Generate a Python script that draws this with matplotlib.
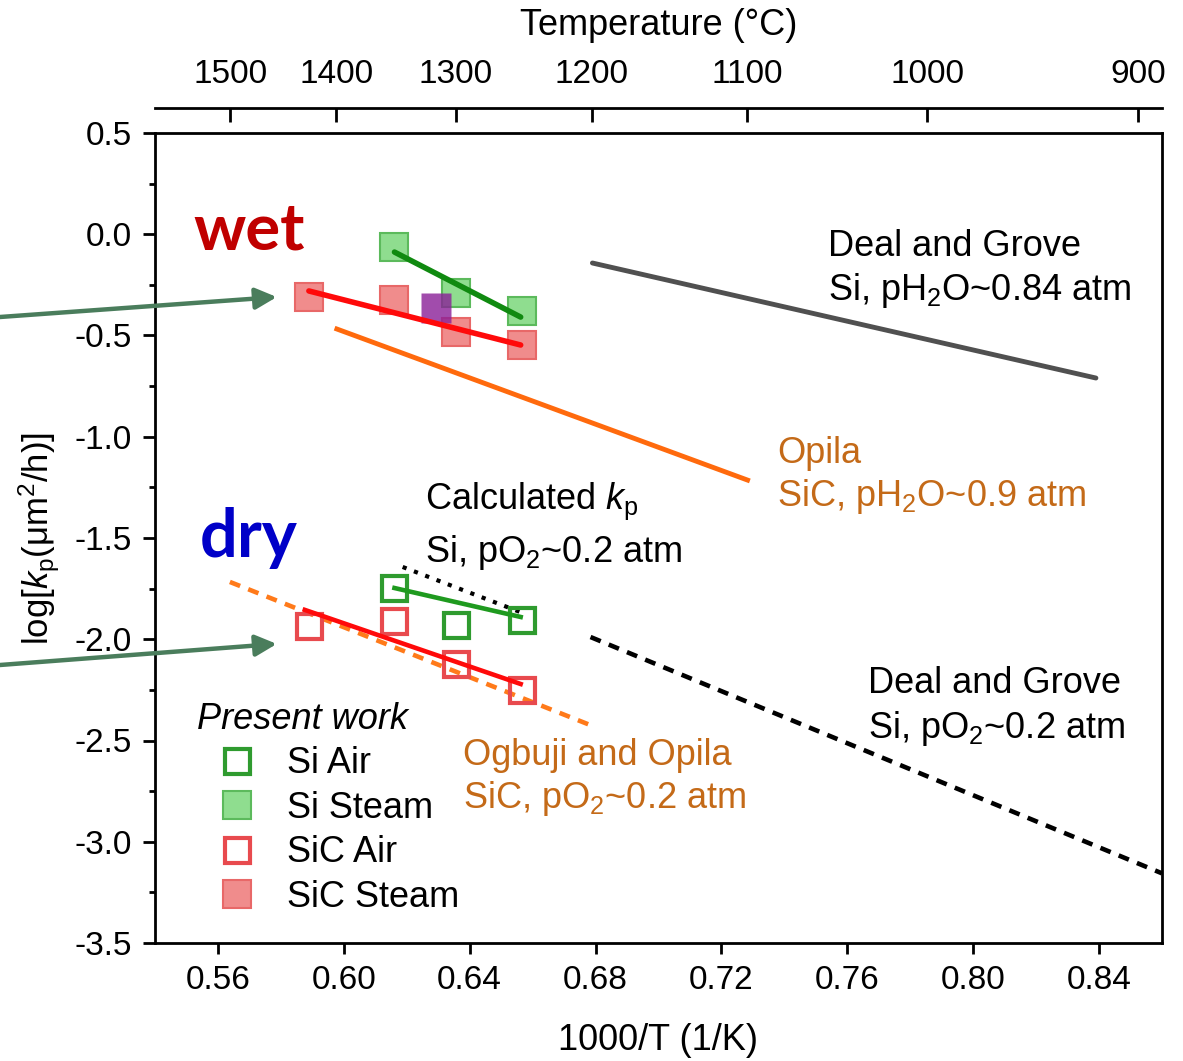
import numpy as np
import matplotlib
matplotlib.use("Agg")
import matplotlib.pyplot as plt
from matplotlib.lines import Line2D
from matplotlib.ticker import MultipleLocator, FormatStrFormatter, FixedLocator

plt.rcParams['font.family'] = ['Liberation Sans', 'DejaVu Sans']
plt.rcParams['mathtext.fontset'] = 'custom'
plt.rcParams['mathtext.rm'] = 'Liberation Sans'
plt.rcParams['mathtext.it'] = 'Liberation Sans:italic'
plt.rcParams['axes.unicode_minus'] = False

# Present work: oxidation temperatures (C) and log kp values
T_si = [1350, 1300, 1250]
T_sic = [1425, 1350, 1300, 1250]
si_steam = [-0.063, -0.290, -0.379]
sic_steam = [-0.310, -0.325, -0.483, -0.547]
si_air = [-1.747, -1.930, -1.905]
sic_air = [-1.935, -1.910, -2.122, -2.251]
extra_x = [0.6294]
extra_y = [-0.364]

# Fits of present work (1000/T, log kp)
fit_si_steam_x, fit_si_steam_y = [0.6161, 0.6562], [-0.088, -0.409]
fit_sic_steam_x, fit_sic_steam_y = [0.5889, 0.6562], [-0.280, -0.547]
fit_si_air_x, fit_si_air_y = [0.6161, 0.6562], [-1.747, -1.890]
fit_sic_air_x, fit_sic_air_y = [0.5876, 0.6562], [-1.855, -2.221]

# Literature lines
dg_wet_x, dg_wet_y = [0.6790, 0.8390], [-0.142, -0.710]
opila_x, opila_y = [0.5978, 0.7283], [-0.468, -1.214]
calc_x, calc_y = [0.6187, 0.6568], [-1.643, -1.870]
ogbuji_x, ogbuji_y = [0.5638, 0.6790], [-1.717, -2.428]
dg_dry_x, dg_dry_y = [0.6784, 0.8600], [-1.989, -3.156]

top_temps = [1500, 1400, 1300, 1200, 1100, 1000, 900]


def inv_T(T):
    return 1000.0 / (np.asarray(T, dtype=float) + 273.15)


FS = 26
fig = plt.figure(figsize=(11.83, 10.61), dpi=100)
ax = fig.add_axes([155/1183, 1-943/1061, (1162-155)/1183, (943-133)/1061])

green_open = '#2f9b2f'
green_fill = '#8fdd8f'
green_edge = '#5cba5c'
red_open = '#e84a4e'
red_fill = '#f08c8c'
red_edge = '#e86868'

# markers
ax.plot(inv_T(T_si), si_steam, 's', ms=20.5, mfc=green_fill, mec=green_edge, mew=1.5,
        ls='none', label='Si Steam', zorder=3)
ax.plot(inv_T(T_sic), sic_steam, 's', ms=20.5, mfc=red_fill, mec=red_edge, mew=1.5,
        ls='none', label='SiC Steam', zorder=3)
ax.plot(extra_x, extra_y, 's', ms=22, mfc='#8a1f98', mec='none', alpha=0.8,
        ls='none', zorder=3.5)
ax.plot(inv_T(T_si), si_air, 's', ms=18, mfc='none', mec=green_open, mew=3,
        ls='none', label='Si Air', zorder=3)
ax.plot(inv_T(T_sic), sic_air, 's', ms=18, mfc='none', mec=red_open, mew=3,
        ls='none', label='SiC Air', zorder=3)

# fits
ax.plot(fit_si_steam_x, fit_si_steam_y, color='#108a10', lw=4, zorder=4,
        solid_capstyle='round')
ax.plot(fit_sic_steam_x, fit_sic_steam_y, color='#ff0a0a', lw=4, zorder=4,
        solid_capstyle='round')
ax.plot(fit_si_air_x, fit_si_air_y, color='#1f9a1f', lw=3.3, zorder=4)
ax.plot(fit_sic_air_x, fit_sic_air_y, color='#ff0a0a', lw=3.3, zorder=4)

# literature
ax.plot(dg_wet_x, dg_wet_y, color='#505050', lw=3.5, solid_capstyle='round')
ax.plot(opila_x, opila_y, color='#ff6a0d', lw=3.5)
ax.plot(calc_x, calc_y, color='black', lw=3, dashes=(1, 1.9))
ax.plot(ogbuji_x, ogbuji_y, color='#ff7a1a', lw=3.3, dashes=(2.4, 1.9))
ax.plot(dg_dry_x, dg_dry_y, color='black', lw=3.3, dashes=(2.4, 1.9))

# annotations
brown = '#c46a18'
txt = [
    (0.7540, -0.107, 'Deal and Grove', 'black'),
    (0.7540, -0.325, r'Si, pH$_2$O~0.84 atm', 'black'),
    (0.7378, -1.130, 'Opila', brown),
    (0.7378, -1.342, r'SiC, pH$_2$O~0.9 atm', brown),
    (0.6257, -1.357, r'Calculated $k_\mathrm{p}$', 'black'),
    (0.6257, -1.619, r'Si, pO$_2$~0.2 atm', 'black'),
    (0.7667, -2.265, 'Deal and Grove', 'black'),
    (0.7667, -2.488, r'Si, pO$_2$~0.2 atm', 'black'),
    (0.6378, -2.621, 'Ogbuji and Opila', brown),
    (0.6378, -2.833, r'SiC, pO$_2$~0.2 atm', brown),
]
for x, y, s, c in txt:
    ax.text(x, y, s, color=c, fontsize=FS, ha='left', va='baseline')

ax.text(0.5521, -0.073, 'wet', color='#c00000', fontsize=47, fontweight='bold',
        family=['Lato', 'DejaVu Sans'], ha='left', va='baseline')
ax.text(0.5543, -1.594, 'dry', color='#0000c8', fontsize=48, fontweight='bold',
        family=['Lato', 'DejaVu Sans'], ha='left', va='baseline')

# arrows from left margin
arrow_c = '#4a7d5c'
for tip_y, start_y in [(-0.310, 317), (-2.023, 665)]:
    ax.annotate('', xy=(0.5787, tip_y), xycoords='data',
                xytext=(0, 1 - start_y/1061), textcoords='figure fraction',
                arrowprops=dict(arrowstyle='-|>', mutation_scale=32, lw=3.2,
                                color=arrow_c, shrinkA=0, shrinkB=0),
                annotation_clip=False, zorder=6)

# legend
handles = [
    Line2D([], [], marker='s', ms=18, mfc='none', mec=green_open, mew=3, ls='none'),
    Line2D([], [], marker='s', ms=20, mfc=green_fill, mec=green_edge, mew=1.5, ls='none'),
    Line2D([], [], marker='s', ms=18, mfc='none', mec=red_open, mew=3, ls='none'),
    Line2D([], [], marker='s', ms=20, mfc=red_fill, mec=red_edge, mew=1.5, ls='none'),
]
leg = ax.legend(handles, ['Si Air', 'Si Steam', 'SiC Air', 'SiC Steam'],
                loc='upper left', bbox_to_anchor=((197-155)/1007, (943-702)/810),
                frameon=False, borderpad=0, borderaxespad=0, handlelength=2.2,
                handletextpad=0.3, labelspacing=0.26, numpoints=1, fontsize=FS,
                title='Present work', alignment='left',
                title_fontproperties={'style': 'italic', 'size': FS})

# axes
ax.set_xlim(0.54, 0.86)
ax.set_ylim(-3.5, 0.5)
ax.xaxis.set_major_locator(FixedLocator([0.56, 0.60, 0.64, 0.68, 0.72, 0.76, 0.80, 0.84]))
ax.xaxis.set_major_formatter(FormatStrFormatter('%.2f'))
ax.yaxis.set_major_locator(MultipleLocator(0.5))
ax.yaxis.set_minor_locator(MultipleLocator(0.25))
ax.yaxis.set_major_formatter(FormatStrFormatter('%.1f'))
ax.tick_params(axis='x', which='major', direction='out', length=8, width=2,
               labelsize=24, pad=8, top=False)
ax.tick_params(axis='y', which='major', direction='out', length=8.5, width=2,
               labelsize=24, pad=8, right=False)
ax.tick_params(axis='y', which='minor', direction='out', length=4.5, width=2, right=False)
for sp in ax.spines.values():
    sp.set_linewidth(2)
ax.set_xlabel('1000/T (1/K)', fontsize=FS, labelpad=19)
ax.set_ylabel(r'log[$k_\mathrm{p}$(μm$^2$/h)]', fontsize=25, labelpad=9)

# top temperature axis
sec = ax.secondary_xaxis(1 + 25/810, functions=(lambda x: 1000.0/np.asarray(x) - 273.15,
                                                  lambda t: 1000.0/(np.asarray(t) + 273.15)))
sec.set_xticks(top_temps)
sec.xaxis.set_major_formatter(FormatStrFormatter('%d'))
sec.tick_params(axis='x', direction='in', length=10, width=2, labelsize=24, pad=13)
sec.spines['top'].set_linewidth(2)
sec.set_xlabel('Temperature (°C)', fontsize=FS, labelpad=17)

fig.savefig('out.png', dpi=100)
